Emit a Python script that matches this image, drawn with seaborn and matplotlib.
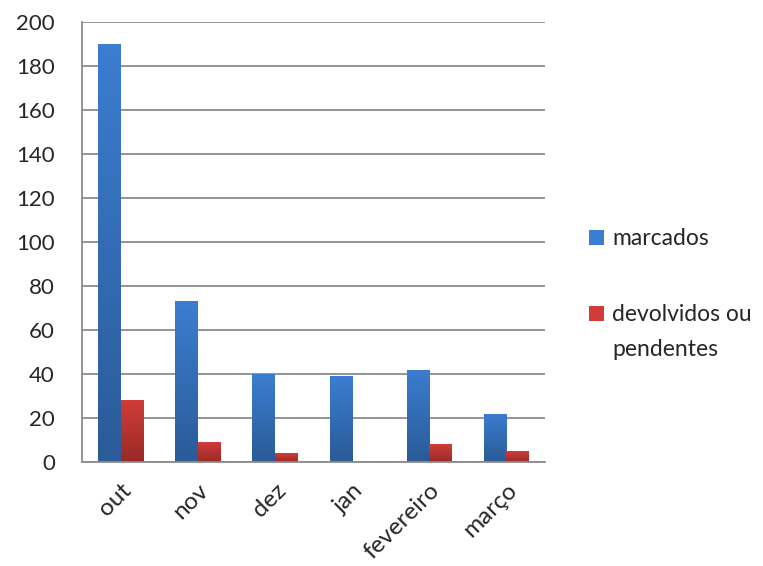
import numpy as np
import pandas as pd
import matplotlib as mpl
from matplotlib import pyplot as plt
import seaborn as sns
from matplotlib.colors import LinearSegmentedColormap
from matplotlib.patches import Patch

meses = ["out", "nov", "dez", "jan", "fevereiro", "março"]
marcados = [190, 73, 40, 39, 42, 22]
devolvidos = [28, 9, 4, 0, 8, 5]
series = ["marcados", "devolvidos ou pendentes"]

# top / bottom colours of the excel-like gradient
grad = {
    series[0]: ("#3b7dd0", "#2b5b98"),
    series[1]: ("#d03c38", "#9a2a27"),
}

df = pd.DataFrame({
    "mes": meses * 2,
    "valor": marcados + devolvidos,
    "serie": [series[0]] * len(meses) + [series[1]] * len(meses),
})

sns.set_style("white")
plt.rcParams["font.family"] = ["Lato", "DejaVu Sans"]

fig = plt.figure(figsize=(7.63, 5.66), dpi=100)
ax = fig.add_axes([0.1075, 0.1837, 0.6065, 0.7773])

sns.barplot(data=df, x="mes", y="valor", hue="serie", order=meses,
            hue_order=series, width=0.58, palette=[grad[s][0] for s in series],
            legend=False, ax=ax, saturation=1)

# replace flat fills by vertical gradients
bars = [p for p in ax.patches]
n = len(meses)
for i, bar in enumerate(bars):
    s = series[i // n]
    top, bot = grad[s]
    cmap = LinearSegmentedColormap.from_list(s, [bot, top])
    x0, y0 = bar.get_x(), bar.get_y()
    w, h = bar.get_width(), bar.get_height()
    if h <= 0:
        bar.set_visible(False)
        continue
    bar.set_facecolor("none")
    bar.set_edgecolor("none")
    img = ax.imshow(np.linspace(0, 1, 100).reshape(-1, 1), cmap=cmap,
                    extent=[x0, x0 + w, y0, y0 + h], origin="lower",
                    aspect="auto", zorder=2)
    img.set_clip_path(bar)

ax.set_xlim(-0.5, n - 0.5)
ax.set_ylim(0, 200)
ax.set_yticks(range(0, 201, 20))
ax.yaxis.grid(True, color="#8c8c8c", linewidth=1.3)
ax.set_axisbelow(True)
ax.set_xlabel("")
ax.set_ylabel("")

for side in ["top", "right"]:
    ax.spines[side].set_visible(False)
for side in ["left", "bottom"]:
    ax.spines[side].set_color("#8c8c8c")
    ax.spines[side].set_linewidth(1.3)

ax.tick_params(axis="y", left=False, labelsize=16, pad=16)
ax.tick_params(axis="x", bottom=False, labelsize=17.5, pad=9)
plt.setp(ax.get_xticklabels(), rotation=45, ha="right", rotation_mode="anchor")

# excel wraps the long legend entry; keep the marker next to the first line
handles = [Patch(facecolor=grad[s][0], edgecolor="none") for s in series]
first, rest = series[1].split(" ", 2)[:2], series[1].split(" ", 2)[2]
leg = fig.legend(handles, [series[0], " ".join(first)], loc="upper left",
                 bbox_to_anchor=(0.745, 0.633), frameon=False, fontsize=16.5,
                 handlelength=0.65, handleheight=0.65, handletextpad=0.35,
                 labelspacing=2.4)
fig.canvas.draw()
bb = leg.get_texts()[1].get_window_extent().transformed(fig.transFigure.inverted())
fig.text(bb.x0, bb.y0 - 35 / 566, rest, fontsize=16.5, va="bottom", ha="left")

fig.savefig("out.png", dpi=100)
